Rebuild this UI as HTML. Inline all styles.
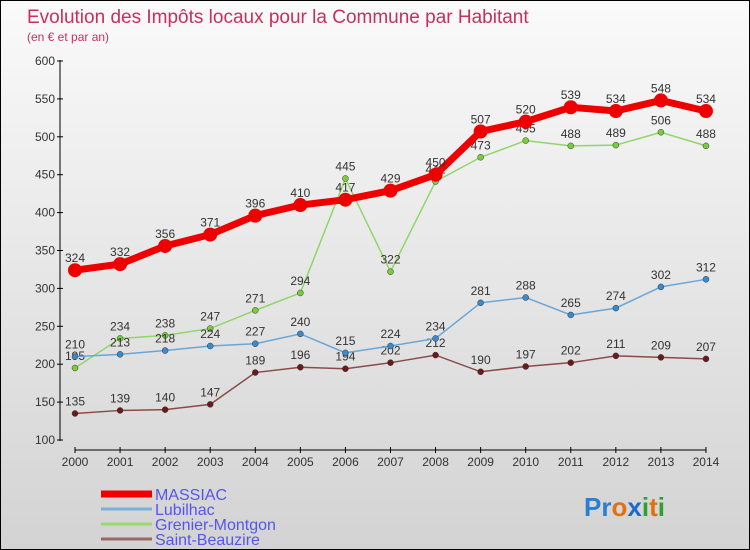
<!DOCTYPE html>
<html><head><meta charset="utf-8"><style>
body{margin:0}
#c{width:748px;height:548px;border:1px solid #000;background:linear-gradient(#fafafa,#d3d3d3);position:relative;font-family:"Liberation Sans",sans-serif;overflow:hidden}
</style></head><body>
<div id="c">
<svg id="s" width="748" height="548"></svg>
</div>
<script>
const years=["2000","2001","2002","2003","2004","2005","2006","2007","2008","2009","2010","2011","2012","2013","2014"];
const yTicks=[100,150,200,250,300,350,400,450,500,550,600];
const massiac=[324,332,356,371,396,410,417,429,450,507,520,539,534,548,534];
const lubilhac=[210,213,218,224,227,240,215,224,234,281,288,265,274,302,312];
const grenier=[195,234,238,247,271,294,445,322,441,473,495,488,489,506,488];
const beauzire=[135,139,140,147,189,196,194,202,212,190,197,202,211,209,207];
const NS="http://www.w3.org/2000/svg";
const s=document.getElementById('s');
function X(i){return 74+i*45.07;}
function Y(v){return 439-(v-100)*0.758;}
function el(t,a,p){const e=document.createElementNS(NS,t);for(const k in a)e.setAttribute(k,a[k]);(p||s).appendChild(e);return e;}
function tx(x,y,str,a){const e=el('text',Object.assign({x:x,y:y},a));e.textContent=str;return e;}
let t=tx(26,22,"Evolution des Impôts locaux pour la Commune par Habitant",{fill:"#c8305a","font-size":"19"});

t=tx(26,40,"(en € et par an)",{fill:"#c8305a","font-size":"12"});

let ya=el('line',{x1:59,y1:59,x2:59,y2:440,stroke:"#000"});

yTicks.forEach(v=>{el('line',{x1:56,x2:62,y1:Y(v),y2:Y(v),stroke:"#000"});
 const l=tx(54,Y(v)+4,String(v),{fill:"#333","font-size":"12","text-anchor":"end"});
 });
let xa=el('line',{x1:74,y1:449,x2:X(14),y2:449,stroke:"#000"});

years.forEach((y,i)=>{el('line',{x1:X(i),x2:X(i),y1:446,y2:452,stroke:"#000"});
 const l=tx(X(i),465,y,{fill:"#333","font-size":"12","text-anchor":"middle"});
 });
function series(d,col,w,r,name,dot){
 const g=el('g',{});
 el('polyline',{points:d.map((v,i)=>X(i)+','+Y(v)).join(' '),fill:"none",stroke:col,"stroke-width":w},g);
 d.forEach((v,i)=>{const c=el('circle',{cx:X(i),cy:Y(v),r:r,fill:dot,stroke:"#333","stroke-width":r>4?0:0.5},g);
  
  const l=tx(X(i),Y(v)-8,String(v),{fill:"#333","font-size":"12","text-anchor":"middle"},g);
  });
}
series(beauzire,"#8b4a4a",1.5,3,"saint-beauzire","#6b1a1a");
series(grenier,"#8fd66a",1.5,3,"grenier-montgon","#7acc3a");
series(lubilhac,"#6aa6d6",1.5,3,"lubilhac","#3a8acc");
series(massiac,"#ee0000",7,7,"massiac","#ee0000");
const leg=[["MASSIAC","#ee0000",7],["Lubilhac","#7ab0d8",3],["Grenier-Montgon","#9ad870",3],["Saint-Beauzire","#9a6666",3]];
leg.forEach((l,i)=>{const g=el('g',{});
 const y=493+i*15;el('line',{x1:100,x2:151,y1:y,y2:y,stroke:l[1],"stroke-width":l[2]},g);
 tx(154,y+6,l[0],{fill:"#5555ee","font-size":"16"},g);});
const p=el('text',{x:583,y:515,"font-size":"26","font-weight":"bold"});

[["P","#2a7fd0"],["r","#2a7fd0"],["o","#e07010"],["x","#1a6ad0"],["i","#30a030"],["t","#e07010"],["i","#30a030"]].forEach(c=>{const ts=el('tspan',{fill:c[1]},p);ts.textContent=c[0];});
</script>
</body></html>
